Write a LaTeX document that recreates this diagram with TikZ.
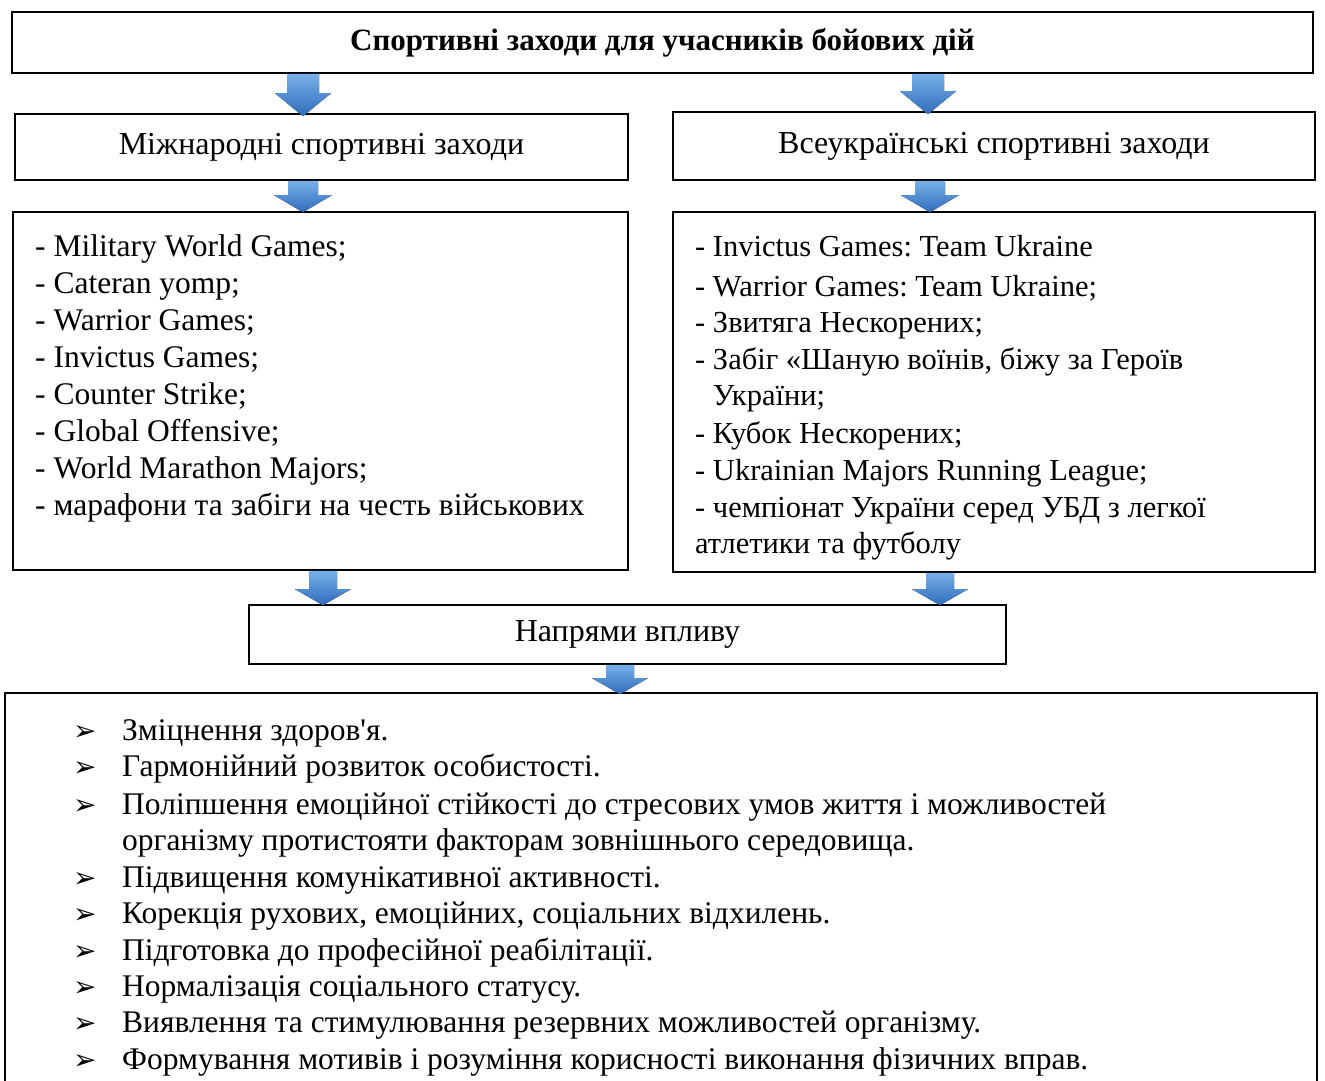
\documentclass[tikz,border=0pt]{standalone}
\usepackage{fontspec}
\setmainfont{Liberation Serif}[Ligatures=TeXOff]
\newfontfamily\symfont{DejaVu Sans}
\usetikzlibrary{calc}
\definecolor{arrowtop}{RGB}{120,176,232}
\definecolor{arrowbot}{RGB}{48,108,188}
\tikzset{
  frame/.style={draw,line width=1.6pt,inner sep=0pt},
  head/.style={font=\fontsize{32}{38}\selectfont},
  item/.style={anchor=base west,inner sep=0pt,font=\fontsize{31.5}{37}\selectfont},
  itemr/.style={item,font=\fontsize{30.5}{37}\selectfont}
}
% block arrow: start, end, half shaft, half head, head length
\newcommand{\blockarrow}[5]{%
  \fill[top color=arrowtop,bottom color=arrowbot] let \p1=#1, \p2=#2 in
    (\x1-#3,\y1) -- (\x1+#3,\y1) -- (\x1+#3,\y2+#5) -- (\x1+#4,\y2+#5)
    -- (\x1,\y2) -- (\x1-#4,\y2+#5) -- (\x1-#3,\y2+#5) -- cycle;}
\begin{document}
\begin{tikzpicture}[x=1pt,y=-1pt]
  \clip (0,0) rectangle (1325,1081);
  \fill[white] (0,0) rectangle (1325,1081);
  % boxes
  \node[frame,head,minimum width=1301,minimum height=61] (title) at (662.5,42.5) {\fontsize{31}{37}\selectfont\textbf{Спортивні заходи для учасників бойових дій}};
  \node[frame,head,minimum width=613,minimum height=66] (intl) at (321.5,147) {Міжнародні спортивні заходи};
  \node[frame,head,minimum width=642,minimum height=68] (natl) at (994,146) {Всеукраїнські спортивні заходи};
  \node[frame,minimum width=615,minimum height=358] (intllist) at (320.5,391) {};
  \node[frame,minimum width=642,minimum height=360] (natllist) at (994,392) {};
  \node[frame,head,minimum width=757,minimum height=59] (dirs) at (627.5,634.5) {Напрями впливу};
  \node[frame,minimum width=1312,minimum height=420] (effects) at (661,903) {};
  % arrows
  \blockarrow{(title.south -| 303,0)}{([yshift=-3pt]intl.north -| 303,0)}{16pt}{28pt}{23pt}
  \blockarrow{(title.south -| 928,0)}{([yshift=-3pt]natl.north -| 928,0)}{16pt}{28pt}{23pt}
  \blockarrow{(intl.south -| 303,0)}{([yshift=-1pt]intllist.north -| 303,0)}{15pt}{29pt}{17pt}
  \blockarrow{(natl.south -| 930,0)}{([yshift=-1pt]natllist.north -| 930,0)}{15pt}{29pt}{17pt}
  \blockarrow{(intllist.south -| 323,0)}{([yshift=-1pt]dirs.north -| 323,0)}{14pt}{28pt}{16pt}
  \blockarrow{(natllist.south -| 940,0)}{([yshift=-1pt]dirs.north -| 940,0)}{14pt}{28pt}{16pt}
  \blockarrow{(dirs.south -| 620,0)}{([yshift=-2pt]effects.north -| 620,0)}{14pt}{28pt}{16pt}
  % international events
  \foreach \t [count=\i] in {{Military World Games;},{Cateran yomp;},{Warrior Games;},{Invictus Games;},
      {Counter Strike;},{Global Offensive;},{World Marathon Majors;},{марафони та забіги на честь військових}}
    \node[item] (il\i) at (35,256+37*\i-37) {-~\t};
  % all-Ukrainian events
  \foreach \y/\t [count=\i] in {256/{- Invictus Games:~Team Ukraine},296/{- Warrior Games:~Team Ukraine;},
      332/{- Звитяга Нескорених;},369/{- Забіг «Шаную воїнів, біжу за Героїв},405/{\phantom{- }України;},
      443/{- Кубок Нескорених;},480/{- Ukrainian Majors Running League;},517/{- чемпіонат України серед УБД з легкої},
      553/{атлетики та футболу}}
    \node[itemr] (nl\i) at (695,\y) {\t};
  % directions of influence
  \foreach \y/\t [count=\i] in {740/{Зміцнення здоров'я.},776/{Гармонійний розвиток особистості.},
      814/{Поліпшення емоційної стійкості до стресових умов життя і можливостей},
      887/{Підвищення комунікативної активності.},923/{Корекція рухових, емоційних, соціальних відхилень.},
      960/{Підготовка до професійної реабілітації.},996/{Нормалізація соціального статусу.},
      1032/{Виявлення та стимулювання резервних можливостей організму.},
      1069/{Формування мотивів і розуміння корисності виконання фізичних вправ.}}
    {\node[item] (eb\i) at (73,\y) {\symfont\fontsize{28}{30}\selectfont ➢};
     \node[item] (el\i) at (122,\y) {\t};}
  \node[item] (elx) at (122,850) {організму протистояти факторам зовнішнього середовища.};
\end{tikzpicture}
\end{document}
